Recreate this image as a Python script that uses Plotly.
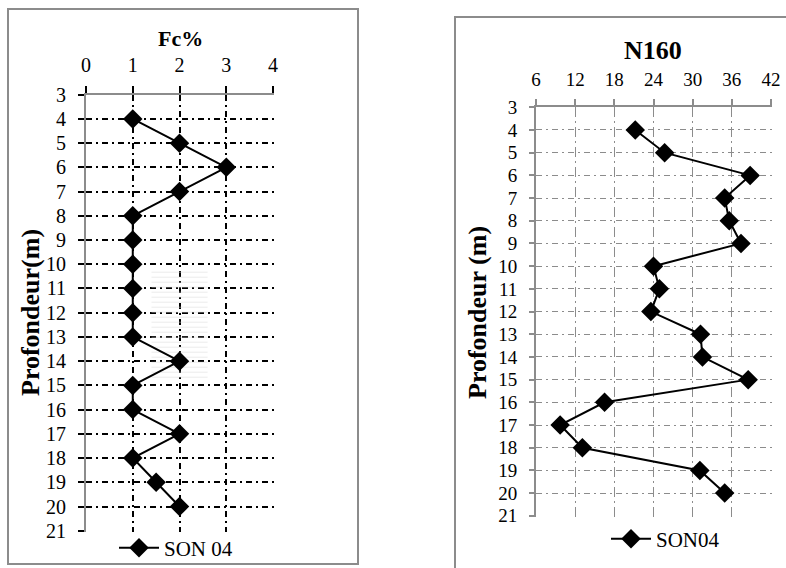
import plotly.graph_objects as go

W, H = 786, 568

depth = list(range(4, 21))
fc = [1, 2, 3, 2, 1, 1, 1, 1, 1, 1, 2, 1, 1, 2, 1, 1.5, 2]
n160 = [21.2, 25.7, 38.8, 34.9, 35.6, 37.4, 24.0, 24.9, 23.6, 31.2, 31.5, 38.5, 16.5, 9.7, 13.1, 31.1, 34.9]

fc_ticks = [0, 1, 2, 3, 4]
n_ticks = [6, 12, 18, 24, 30, 36, 42]
depth_ticks = list(range(3, 22))

FONT = "Liberation Serif"

def px(x):
    return x / W

def py(y):
    return 1 - y / H

fig = go.Figure()

# faint scan shading in left panel
fig.add_trace(go.Bar(
    y=[12.45], x=[1.2], base=[1.4], orientation="h", width=[4.5],
    marker=dict(color="rgba(0,0,0,0)", line=dict(width=0),
                pattern=dict(shape="-", fgcolor="#d8d8d8", size=5, solidity=0.2)),
    xaxis="x", yaxis="y", showlegend=False, hoverinfo="skip"))

fig.add_trace(go.Scatter(
    x=fc, y=depth, mode="lines+markers", name="SON 04",
    line=dict(color="black", width=2),
    marker=dict(symbol="diamond", size=15, color="black"),
    xaxis="x", yaxis="y", legend="legend"))

fig.add_trace(go.Scatter(
    x=n160, y=depth, mode="lines+markers", name="SON04",
    line=dict(color="black", width=2),
    marker=dict(symbol="diamond", size=15, color="black"),
    xaxis="x2", yaxis="y2", legend="legend2"))

def tf(size):
    return dict(family=FONT, size=size, color="black")

fig.update_layout(
    width=W, height=H,
    margin=dict(l=0, r=0, t=0, b=0, autoexpand=False),
    paper_bgcolor="white", plot_bgcolor="white",
    font=dict(family=FONT, color="black"),
    barmode="overlay",
    xaxis=dict(domain=[px(86), px(274)], range=[0, 4.02], side="top",
               tickvals=fc_ticks, ticktext=[str(t) for t in fc_ticks],
               showgrid=True, gridcolor="black", griddash="6px,4px,2px,4px", gridwidth=1.6,
               showline=True, linecolor="#8c8c8c", linewidth=2, mirror=False,
               ticks="outside", ticklen=7, tickcolor="black", tickwidth=1.5,
               tickfont=tf(20), ticklabelstandoff=6, zeroline=False,
               anchor="y", fixedrange=True, automargin=False),
    yaxis=dict(domain=[py(531.7), py(94.7)], range=[21.04, 3],
               tickvals=depth_ticks, ticktext=[str(t) for t in depth_ticks],
               showgrid=True, gridcolor="black", griddash="6px,4px,2px,4px", gridwidth=1.6,
               showline=True, linecolor="#8c8c8c", linewidth=2,
               ticks="outside", ticklen=6, tickcolor="black", tickwidth=1.5,
               tickfont=tf(20), ticklabelstandoff=8, zeroline=False,
               anchor="x", fixedrange=True, automargin=False),
    xaxis2=dict(domain=[px(536), px(772)], range=[6, 42.15], side="top",
                tickvals=n_ticks, ticktext=[str(t) for t in n_ticks],
                showgrid=True, gridcolor="#8c8c8c", griddash="10px,4px,2px,4px", gridwidth=1.4,
                showline=True, linecolor="#8c8c8c", linewidth=2,
                ticks="outside", ticklen=6, tickcolor="#8c8c8c", tickwidth=1.5,
                tickfont=tf(19), ticklabelstandoff=6, zeroline=False,
                anchor="y2", fixedrange=True, automargin=False),
    yaxis2=dict(domain=[py(516.7), py(107.3)], range=[21.04, 3],
                tickvals=depth_ticks, ticktext=[str(t) for t in depth_ticks],
                showgrid=True, gridcolor="#8c8c8c", griddash="6px,4px,2px,4px", gridwidth=1.4,
                showline=True, linecolor="#8c8c8c", linewidth=2,
                ticks="outside", ticklen=5, tickcolor="#8c8c8c", tickwidth=1.5,
                tickfont=tf(19), ticklabelstandoff=8, zeroline=False,
                anchor="x2", fixedrange=True, automargin=False),
    legend=dict(x=px(114), y=py(548), xanchor="left", yanchor="middle",
                font=tf(21), bgcolor="rgba(0,0,0,0)", itemwidth=40),
    legend2=dict(x=px(606), y=py(539), xanchor="left", yanchor="middle",
                 font=tf(21), bgcolor="rgba(0,0,0,0)", itemwidth=40),
    showlegend=True,
)

# panel borders
fig.add_shape(type="rect", xref="paper", yref="paper",
              x0=px(8), x1=px(358), y0=py(564), y1=py(9),
              line=dict(color="#8c8c8c", width=2), layer="below")
fig.add_shape(type="rect", xref="paper", yref="paper",
              x0=px(455), x1=1.02, y0=-0.02, y1=py(17),
              line=dict(color="#8c8c8c", width=2), layer="below")

# titles
def ann(text, x, y, size, angle=0):
    fig.add_annotation(text=text, xref="paper", yref="paper",
                       x=px(x), y=py(y), xanchor="center", yanchor="middle",
                       showarrow=False, textangle=angle, font=tf(size))

ann("<b>Fc%</b>", 180, 38, 22)
ann("<b>N160</b>", 653, 50, 26)
ann("<b>Profondeur(m)</b>", 30, 313, 26, -90)
ann("<b>Profondeur (m)</b>", 477, 312, 26, -90)

fig.write_html("out.html")
